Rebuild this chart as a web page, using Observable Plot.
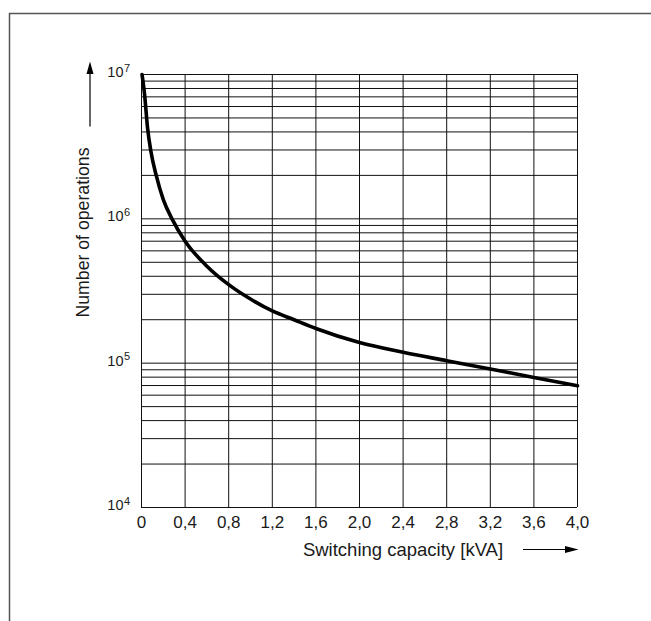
<!DOCTYPE html>
<html>
<head>
<meta charset="utf-8">
<script src="https://cdn.jsdelivr.net/npm/d3@7"></script>
<script src="https://cdn.jsdelivr.net/npm/@observablehq/plot@0.6"></script>
<style>
  html, body { margin: 0; padding: 0; background: #fff; }
  #chart { position: relative; width: 651px; height: 621px; overflow: hidden; }
  svg { display: block; }
</style>
</head>
<body>
<div id="chart"></div>
<script>
// ---- data ----
const capacity   = [0.005, 0.028, 0.055, 0.086, 0.135, 0.2, 0.28, 0.4, 0.6, 0.8, 1.0, 1.2, 1.4, 1.6, 2.0, 2.4, 2.8, 3.2, 3.6, 4.0];
const operations = [1.0e7, 7.3e6, 4.3e6, 2.94e6, 2.0e6, 1.36e6, 1.0e6, 7.0e5, 4.7e5, 3.5e5, 2.78e5, 2.3e5, 2.0e5, 1.74e5, 1.39e5, 1.19e5, 1.04e5, 9.1e4, 7.96e4, 6.97e4];

const xTicks      = [0, 0.4, 0.8, 1.2, 1.6, 2.0, 2.4, 2.8, 3.2, 3.6, 4.0];
const xTickLabels = ["0", "0,4", "0,8", "1,2", "1,6", "2,0", "2,4", "2,8", "3,2", "3,6", "4,0"];

const decades        = [1e4, 1e5, 1e6, 1e7];
const decadeExponent = ["4", "5", "6", "7"];
const mantissas      = [1, 2, 3, 4, 5, 6, 7, 8, 9];

const xTitle = "Switching capacity [kVA]";
const yTitle = "Number of operations";

// ---- derived tables ----
const curve = capacity.map((x, i) => ({x, y: operations[i]}));
const yGrid = decades.slice(0, 3).flatMap(d => mantissas.map(m => m * d)).concat([decades[3]]);
const xLab = xTicks.map((x, i) => ({x, label: xTickLabels[i]}));
const yLab = decades.map((y, i) => ({y, exp: decadeExponent[i]}));

const textColor = "#1a1a1a";
const font = "'Liberation Sans', Arial, Helvetica, sans-serif";

const plot = Plot.plot({
  width: 651,
  height: 621,
  marginTop: 74,
  marginBottom: 114,
  marginLeft: 141,
  marginRight: 74,
  style: {fontFamily: font, background: "#fff", overflow: "visible"},
  x: {domain: [0, 4], axis: null},
  y: {type: "log", domain: [1e4, 1e7], axis: null},
  marks: [
    Plot.ruleY(yGrid, {y: d => d, stroke: "#111", strokeWidth: 1}),
    Plot.ruleX(xTicks, {x: d => d, stroke: "#111", strokeWidth: 1}),
    Plot.line(curve, {x: "x", y: "y", curve: "monotone-x", stroke: "#000", strokeWidth: 3.6, strokeLinecap: "round"}),
    // x tick labels
    Plot.text(xLab, {x: "x", y: () => 1e4, text: "label", dy: 15, fontSize: 17, fill: textColor}),
    // y tick labels: 10 with superscript exponent
    Plot.text(yLab, {x: () => 0, y: "y", text: () => "10", textAnchor: "end", dx: -18, dy: -2, fontSize: 14.5, fill: textColor}),
    Plot.text(yLab, {x: () => 0, y: "y", text: "exp", textAnchor: "start", dx: -17.5, dy: -6.5, fontSize: 11, fill: textColor}),
    // axis titles
    Plot.text([xTitle], {frameAnchor: "bottom-left", text: d => d, textAnchor: "middle", dx: 261.5, dy: 48, fontSize: 18.5, fill: textColor}),
    Plot.text([yTitle], {frameAnchor: "left", text: d => d, textAnchor: "middle", rotate: -90, dx: -58, dy: -58.5, fontSize: 17.7, fill: textColor})
  ]
});

document.getElementById("chart").appendChild(plot);

// ---- decorations: page border and axis arrows ----
const svg = d3.select(plot);
const deco = svg.append("g");
deco.append("path").attr("d", "M9.5,621 L9.5,13.5 L651,13.5")
  .attr("fill", "none").attr("stroke", "#555").attr("stroke-width", 1.5);
deco.append("line").attr("x1", 523).attr("x2", 567).attr("y1", 549.5).attr("y2", 549.5)
  .attr("stroke", "#000").attr("stroke-width", 1.2);
deco.append("path").attr("d", "M578.5,549.5 L565,546 L565,553 Z").attr("fill", "#000");
deco.append("line").attr("x1", 90).attr("x2", 90).attr("y1", 126.5).attr("y2", 72)
  .attr("stroke", "#000").attr("stroke-width", 1.2);
deco.append("path").attr("d", "M90,61.5 L86.5,74 L93.5,74 Z").attr("fill", "#000");
</script>
</body>
</html>
